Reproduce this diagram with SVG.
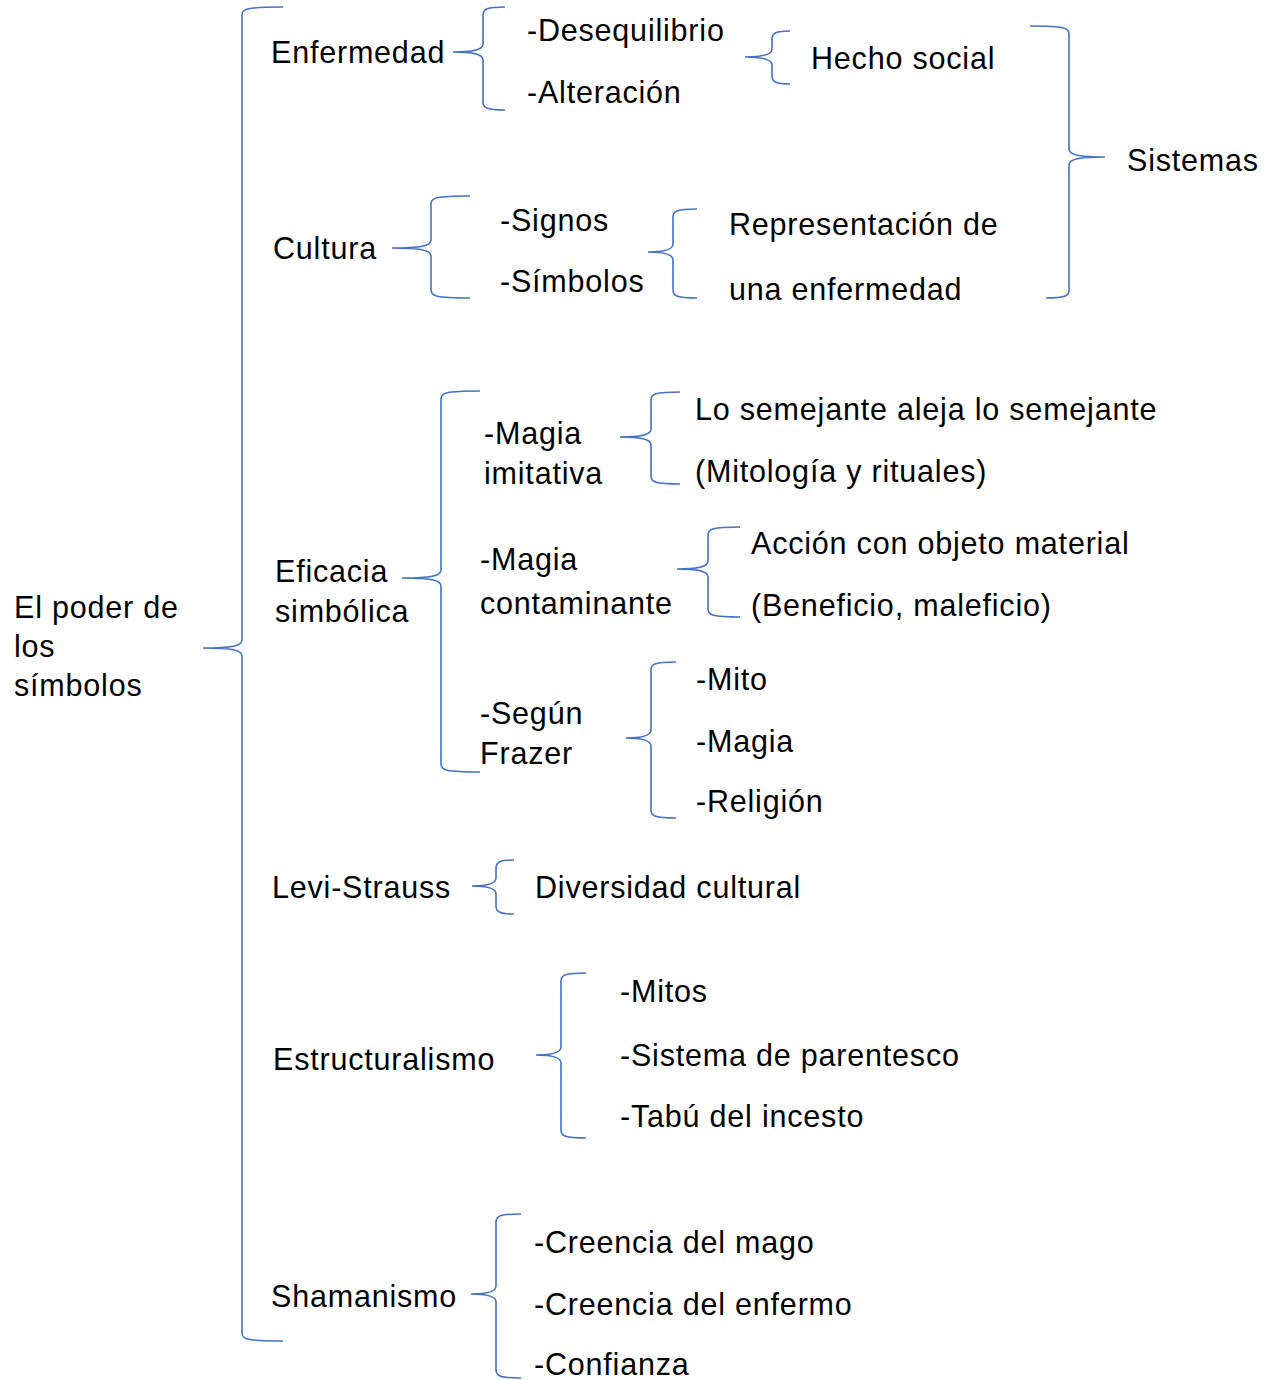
<svg xmlns="http://www.w3.org/2000/svg" width="1264" height="1380" viewBox="0 0 1264 1380">
<style>
text{font-family:"Liberation Sans",Arial,sans-serif;font-size:30.5px;fill:#000;letter-spacing:0.8px}
.b{fill:none;stroke:#4472C4;stroke-width:1.6}
</style>
<rect width="1264" height="1380" fill="#fff"/>
<g id="connectors">
<path class="b" d="M283,7 C246,7 242,9 242,15 L242,640 C242,646 232,648 203,648 C232,648 242,650 242,656 L242,1333 C242,1339 246,1341 283,1341"/>
<path class="b" d="M505,7 C487,7 483,9 483,15 L483,44 C483,50 473,52 453,52 C473,52 483,54 483,60 L483,102 C483,108 487,110 505,110"/>
<path class="b" d="M790,31 C776,31 772,33 772,39 L772,49 C772,55 762,57 745,57 C762,57 772,59 772,65 L772,76 C772,82 776,84 790,84"/>
<path class="b" d="M1030,26 C1065,26 1069,28 1069,34 L1069,149 C1069,155 1079,157 1105,157 C1079,157 1069,159 1069,165 L1069,290 C1069,296 1065,298 1046,298"/>
<path class="b" d="M470,196 C435,196 431,198 431,204 L431,240 C431,246 421,248 392,248 C421,248 431,250 431,256 L431,290 C431,296 435,298 470,298"/>
<path class="b" d="M697,209 C677,209 673,211 673,217 L673,244 C673,250 663,252 648,252 C663,252 673,254 673,260 L673,290 C673,296 677,298 697,298"/>
<path class="b" d="M480,391 C445,391 441,393 441,399 L441,570 C441,576 431,578 402,578 C431,578 441,580 441,586 L441,764 C441,770 445,772 480,772"/>
<path class="b" d="M680,392 C655,392 651,394 651,400 L651,429 C651,435 641,437 620,437 C641,437 651,439 651,445 L651,476 C651,482 655,484 680,484"/>
<path class="b" d="M740,527 C712,527 708,529 708,535 L708,561 C708,567 698,569 677,569 C698,569 708,571 708,577 L708,609 C708,615 712,617 740,617"/>
<path class="b" d="M676,662 C655,662 651,664 651,670 L651,730 C651,736 641,738 626,738 C641,738 651,740 651,746 L651,810 C651,816 655,818 676,818"/>
<path class="b" d="M514,860 C500,860 496,862 496,868 L496,878 C496,884 486,886 472,886 C486,886 496,888 496,894 L496,906 C496,912 500,914 514,914"/>
<path class="b" d="M586,973 C565,973 561,975 561,981 L561,1047 C561,1053 551,1055 536,1055 C551,1055 561,1057 561,1063 L561,1130 C561,1136 565,1138 586,1138"/>
<path class="b" d="M521,1214 C500,1214 496,1216 496,1222 L496,1286 C496,1292 486,1294 471,1294 C486,1294 496,1296 496,1302 L496,1370 C496,1376 500,1378 521,1378"/>
</g>
<g id="root"><text x="14" y="618">El poder de</text><text x="14" y="657">los</text><text x="14" y="696">símbolos</text></g>
<g id="enfermedad"><text x="271" y="63">Enfermedad</text></g>
<g id="desequilibrio"><text x="527" y="41">-Desequilibrio</text></g>
<g id="alteracion"><text x="527" y="103">-Alteración</text></g>
<g id="hecho-social"><text x="811" y="69">Hecho social</text></g>
<g id="sistemas"><text x="1127" y="171">Sistemas</text></g>
<g id="cultura"><text x="273" y="259">Cultura</text></g>
<g id="signos"><text x="500" y="231">-Signos</text></g>
<g id="simbolos"><text x="500" y="292">-Símbolos</text></g>
<g id="representacion"><text x="729" y="235">Representación de</text><text x="729" y="300">una enfermedad</text></g>
<g id="eficacia"><text x="275" y="582">Eficacia</text><text x="275" y="622">simbólica</text></g>
<g id="magia-imitativa"><text x="484" y="444">-Magia</text><text x="484" y="484">imitativa</text></g>
<g id="semejante"><text x="695" y="420">Lo semejante aleja lo semejante</text></g>
<g id="mitologia"><text x="695" y="482">(Mitología y rituales)</text></g>
<g id="magia-contaminante"><text x="480" y="570">-Magia</text><text x="480" y="614">contaminante</text></g>
<g id="accion"><text x="751" y="554">Acción con objeto material</text></g>
<g id="beneficio"><text x="751" y="616">(Beneficio, maleficio)</text></g>
<g id="segun-frazer"><text x="480" y="724">-Según</text><text x="480" y="764">Frazer</text></g>
<g id="mito"><text x="696" y="690">-Mito</text></g>
<g id="magia"><text x="696" y="752">-Magia</text></g>
<g id="religion"><text x="696" y="812">-Religión</text></g>
<g id="levi-strauss"><text x="272" y="898">Levi-Strauss</text></g>
<g id="diversidad"><text x="535" y="898">Diversidad cultural</text></g>
<g id="estructuralismo"><text x="273" y="1070">Estructuralismo</text></g>
<g id="mitos"><text x="620" y="1002">-Mitos</text></g>
<g id="parentesco"><text x="620" y="1066">-Sistema de parentesco</text></g>
<g id="tabu"><text x="620" y="1127">-Tabú del incesto</text></g>
<g id="shamanismo"><text x="271" y="1307">Shamanismo</text></g>
<g id="creencia-mago"><text x="534" y="1253">-Creencia del mago</text></g>
<g id="creencia-enfermo"><text x="534" y="1315">-Creencia del enfermo</text></g>
<g id="confianza"><text x="534" y="1375">-Confianza</text></g>
</svg>
